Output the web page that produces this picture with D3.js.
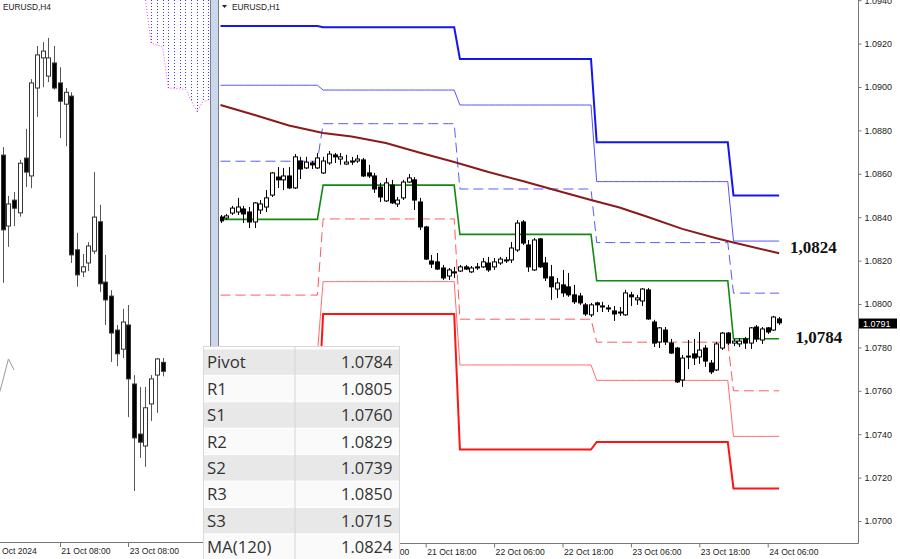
<!DOCTYPE html>
<html><head><meta charset="utf-8">
<script src="https://cdn.jsdelivr.net/npm/d3@7"></script>
<style>
html,body{margin:0;padding:0;background:#fff;}
svg{display:block;}
</style></head><body>
<svg id="c" width="900" height="559"></svg>
<script>
// ---------------- DATA ----------------
// H4 panel (left), bars 0..28 (17 Oct 16:00 .. 24 Oct 08:00)
const h4Open  = [1.08411,1.08244,1.08305,1.08275,1.08404,1.08362,1.08569,1.08640,1.08597,1.08628,1.08581,1.08531,1.08550,1.08188,1.08136,1.08157,1.08185,1.08254,1.08112,1.08079,1.07999,1.07954,1.08011,1.07872,1.07754,1.07726,1.07825,1.07893,1.07923];
const h4High  = [1.08430,1.08315,1.08324,1.08400,1.08473,1.08590,1.08668,1.08677,1.08687,1.08668,1.08618,1.08569,1.08559,1.08228,1.08178,1.08206,1.08371,1.08294,1.08176,1.08093,1.08011,1.08049,1.08058,1.07893,1.07865,1.07865,1.07893,1.07933,1.07933];
const h4Low   = [1.08110,1.08195,1.08244,1.08266,1.08336,1.08333,1.08501,1.08571,1.08583,1.08565,1.08451,1.08432,1.08157,1.08101,1.08124,1.08138,1.08178,1.08089,1.08011,1.07924,1.07914,1.07933,1.07794,1.07620,1.07698,1.07677,1.07785,1.07804,1.07890];
const h4Close = [1.08235,1.08296,1.08286,1.08392,1.08371,1.08581,1.08647,1.08656,1.08640,1.08569,1.08538,1.08559,1.08176,1.08129,1.08148,1.08197,1.08265,1.08108,1.08070,1.07992,1.07943,1.08018,1.07884,1.07745,1.07735,1.07816,1.07884,1.07931,1.07902];
const h4CloudBars = [25,26,27,28,29,30,31,32,33,34,35,36];
const h4CloudEdge = [1.08776,1.08675,1.08670,1.08666,1.08569,1.08568,1.08567,1.08566,1.08541,1.08513,1.08536,1.08541];
const h4LagBars = [-1,0,1,2];
const h4LagValues = [1.07830,1.07879,1.07931,1.07905];
const h4TickBars = [10,22];
const h4TickLabels = ["21 Oct 08:00","23 Oct 08:00"];
const h4FirstLabel = "Oct 2024";

// H1 panel (right), bars -18..80 (bar 0 = 21 Oct 00:00)
const h1FirstBar = -18;
const h1Open = [1.08401,1.08396,1.08419,1.08424,1.08438,1.08424,1.08378,1.08433,1.08447,1.08502,1.08585,1.08572,1.08590,1.08535,1.08659,1.08627,1.08650,1.08627,
1.08604,1.08650,1.08687,1.08668,1.08645,1.08659,1.08659,1.08664,1.08604,1.08590,1.08539,1.08475,1.08548,1.08461,1.08489,1.08562,1.08572,1.08470,1.08355,1.08198,1.08194,1.08166,1.08129,1.08148,
1.08152,1.08171,1.08148,1.08171,1.08171,1.08189,1.08171,1.08189,1.08203,1.08203,1.08249,1.08378,1.08272,1.08157,1.08300,1.08189,1.08125,1.08069,1.08088,1.08079,1.08042,1.08037,1.07996,1.07950,
1.08005,1.07991,1.07982,1.07968,1.07963,1.07950,1.08042,1.08019,1.08014,1.08065,1.07917,1.07825,1.07880,1.07820,1.07797,1.07650,1.07760,1.07770,1.07756,1.07797,1.07728,1.07696,1.07797,1.07866,
1.07820,1.07816,1.07839,1.07820,1.07894,1.07834,1.07890,1.07880,1.07931];
const h1High = [1.08410,1.08415,1.08452,1.08489,1.08452,1.08447,1.08470,1.08479,1.08525,1.08608,1.08631,1.08627,1.08631,1.08691,1.08678,1.08678,1.08659,1.08696,
1.08678,1.08705,1.08696,1.08696,1.08687,1.08678,1.08687,1.08673,1.08641,1.08604,1.08558,1.08581,1.08572,1.08493,1.08572,1.08599,1.08585,1.08489,1.08360,1.08226,1.08235,1.08180,1.08166,1.08171,
1.08180,1.08180,1.08175,1.08189,1.08212,1.08217,1.08212,1.08217,1.08217,1.08286,1.08387,1.08387,1.08295,1.08304,1.08304,1.08217,1.08180,1.08120,1.08157,1.08143,1.08088,1.08051,1.08005,1.08005,
1.08010,1.08010,1.07996,1.07991,1.07986,1.08065,1.08056,1.08042,1.08074,1.08074,1.07927,1.07894,1.07894,1.07839,1.07802,1.07765,1.07834,1.07839,1.07871,1.07811,1.07742,1.07825,1.07871,1.07871,
1.07839,1.07843,1.07848,1.07894,1.07903,1.07894,1.07894,1.07945,1.07940];
const h1Low = [1.08373,1.08387,1.08410,1.08410,1.08373,1.08350,1.08350,1.08415,1.08424,1.08493,1.08535,1.08525,1.08530,1.08530,1.08576,1.08622,1.08622,1.08622,
1.08599,1.08641,1.08650,1.08641,1.08641,1.08641,1.08650,1.08585,1.08581,1.08512,1.08470,1.08470,1.08461,1.08447,1.08479,1.08558,1.08433,1.08341,1.08203,1.08166,1.08157,1.08111,1.08111,1.08120,
1.08148,1.08157,1.08143,1.08157,1.08166,1.08148,1.08157,1.08180,1.08189,1.08189,1.08240,1.08272,1.08148,1.08152,1.08166,1.08106,1.08019,1.08028,1.08033,1.08033,1.08000,1.07996,1.07945,1.07940,
1.07963,1.07963,1.07963,1.07922,1.07945,1.07945,1.07991,1.07996,1.07991,1.07927,1.07802,1.07797,1.07811,1.07770,1.07636,1.07618,1.07700,1.07719,1.07724,1.07710,1.07677,1.07691,1.07788,1.07811,
1.07806,1.07802,1.07793,1.07793,1.07825,1.07816,1.07862,1.07876,1.07903];
const h1Close = [1.08383,1.08406,1.08442,1.08447,1.08415,1.08378,1.08466,1.08461,1.08489,1.08604,1.08572,1.08590,1.08535,1.08678,1.08622,1.08654,1.08641,1.08673,
1.08659,1.08691,1.08678,1.08678,1.08654,1.08654,1.08668,1.08590,1.08590,1.08530,1.08493,1.08558,1.08466,1.08479,1.08562,1.08581,1.08479,1.08355,1.08207,1.08184,1.08161,1.08120,1.08157,1.08143,
1.08171,1.08161,1.08166,1.08166,1.08194,1.08157,1.08194,1.08207,1.08200,1.08258,1.08373,1.08281,1.08171,1.08295,1.08171,1.08120,1.08079,1.08097,1.08051,1.08042,1.08010,1.08005,1.07954,1.07996,
1.07996,1.07989,1.07977,1.07954,1.07959,1.08051,1.08033,1.08028,1.08069,1.07931,1.07820,1.07890,1.07825,1.07774,1.07641,1.07751,1.07756,1.07751,1.07788,1.07737,1.07687,1.07816,1.07866,1.07820,
1.07829,1.07829,1.07820,1.07890,1.07839,1.07885,1.07871,1.07940,1.07913];

// Daily pivot levels (18, 21, 22, 23, 24 Oct)
const pivotDays = ["18 Oct","21 Oct","22 Oct","23 Oct","24 Oct"];
const dayFirstBar = [-18,0,24,48,72];
const levelR3 = [1.09281,1.09275,1.09129,1.08745,1.0850];
const levelR2 = [1.09008,1.08986,1.08917,1.08564,1.0829];
const levelR1 = [1.08658,1.08831,1.08530,1.08283,1.0805];
const levelP  = [1.08390,1.08548,1.08321,1.08107,1.0784];
const levelS1 = [1.08041,1.08392,1.07930,1.07824,1.0760];
const levelS2 = [1.07772,1.08103,1.07719,1.07648,1.0739];
const levelS3 = [1.07422,1.07954,1.07329,1.07364,1.0715];

// MA(120)
const maBars   = [-18,-12,-6,0,5,11,17,23,29,35,40,47,52,57,63,69,72,80];
const maValues = [1.08917,1.08871,1.08823,1.08788,1.08772,1.08742,1.08697,1.08654,1.08608,1.08567,1.08530,1.08479,1.08445,1.08401,1.08346,1.08303,1.08283,1.08234];

const priceTicks = [1.0700,1.0720,1.0740,1.0760,1.0780,1.0800,1.0820,1.0840,1.0860,1.0880,1.0900,1.0920,1.0940];
const h1TickBars = [6,18,30,42,54,66,78];
const h1TickLabels = ["00","21 Oct 18:00","22 Oct 06:00","22 Oct 18:00","23 Oct 06:00","23 Oct 18:00","24 Oct 06:00"];
const lastPrice = 1.0791;
const maLabel = "1,0824", pivotLabel = "1,0784";
const maLabelValue = 1.0824, pivotLabelValue = 1.0784;

const tableLabels = ["Pivot","R1","S1","R2","S2","R3","S3","MA(120)"];
const tableValues = ["1.0784","1.0805","1.0760","1.0829","1.0739","1.0850","1.0715","1.0824"];

// ---------------- DRAW ----------------
const svg = d3.select("#c");
svg.append("rect").attr("width",900).attr("height",559).attr("fill","#fff");
const defs = svg.append("defs");
defs.append("clipPath").attr("id","clipL").append("rect").attr("x",0).attr("y",0).attr("width",210).attr("height",542);
defs.append("clipPath").attr("id","clipR").append("rect").attr("x",220).attr("y",0).attr("width",638).attr("height",543);

const yH1 = d3.scaleLinear().domain([1.0700,1.0940]).range([521,0.2]);
const xH1 = d3.scaleLinear().domain([0,78]).range([323.1,767.7]);
const yH4 = d3.scaleLinear().domain([1.0762,1.087763]).range([491,0]);
const xH4 = d3.scaleLinear().domain([0,28]).range([2.7,162.6]);
const axisFont = "Liberation Sans, Arial, sans-serif";

function drawCandles(g, bars, O, Hh, L, C, x, y, wickColor, edgeColor){
  const data = bars.map((b,i)=>({b,o:O[i],h:Hh[i],l:L[i],c:C[i]}));
  const cg = g.append("g");
  cg.selectAll("line.w").data(data).enter().append("line")
    .attr("x1",d=>Math.round(x(d.b))+0.5).attr("x2",d=>Math.round(x(d.b))+0.5)
    .attr("y1",d=>y(d.h)).attr("y2",d=>y(d.l))
    .attr("stroke",wickColor).attr("stroke-width",1);
  cg.selectAll("rect.b").data(data).enter().append("rect")
    .attr("x",d=>Math.round(x(d.b))-1.5)
    .attr("width",4)
    .attr("y",d=>Math.min(y(d.o),y(d.c)))
    .attr("height",d=>Math.max(Math.abs(y(d.o)-y(d.c)),1))
    .attr("fill",d=>d.c<d.o?"#000":"#fff")
    .attr("stroke",edgeColor).attr("stroke-width",1);
}

// ---- Left H4 panel ----
const gL = svg.append("g").attr("clip-path","url(#clipL)");
const cloudPts = h4CloudBars.map((b,i)=>[xH4(b),yH4(h4CloudEdge[i])]);
gL.selectAll("line.hatch").data(cloudPts.slice(1)).enter().append("line")
  .attr("x1",d=>Math.round(d[0])+0.5).attr("x2",d=>Math.round(d[0])+0.5)
  .attr("y1",0).attr("y2",d=>d[1])
  .attr("stroke","#3a3aff").attr("stroke-width",1).attr("stroke-dasharray","1,2");
gL.append("path").attr("d",d3.line()(cloudPts)).attr("fill","none")
  .attr("stroke","#ff3cff").attr("stroke-width",1).attr("stroke-dasharray","1,2");
gL.append("path").attr("d",d3.line()(h4LagBars.map((b,i)=>[xH4(b),yH4(h4LagValues[i])])))
  .attr("fill","none").attr("stroke","#9a9a9a").attr("stroke-width",1);
drawCandles(gL, h4Open.map((d,i)=>i), h4Open,h4High,h4Low,h4Close, xH4, yH4, "#555", "#333");
svg.append("line").attr("x1",0).attr("x2",210).attr("y1",542.5).attr("y2",542.5).attr("stroke","#777");
svg.selectAll("line.l4t").data(h4TickBars).enter().append("line")
  .attr("x1",d=>Math.round(xH4(d))+0.5).attr("x2",d=>Math.round(xH4(d))+0.5)
  .attr("y1",542).attr("y2",547).attr("stroke","#777");
svg.selectAll("text.l4t").data(h4TickBars).enter().append("text")
  .attr("x",d=>xH4(d)+1.5).attr("y",554).text((d,i)=>h4TickLabels[i])
  .attr("font-family",axisFont).attr("font-size",8.6).attr("fill","#222");
svg.append("text").attr("x",2).attr("y",554).text(h4FirstLabel)
  .attr("font-family",axisFont).attr("font-size",8.6).attr("fill","#222");
svg.append("text").attr("x",3).attr("y",10).text("EURUSD,H4")
  .attr("font-family",axisFont).attr("font-size",8.3).attr("fill","#222");

// separator
svg.append("rect").attr("x",210.5).attr("y",-1).attr("width",8).attr("height",348)
  .attr("fill","#c9d8ec").attr("stroke","#7d7d7d").attr("stroke-width",1);

// ---- Right H1 panel ----
const gR = svg.append("g").attr("clip-path","url(#clipR)");
const lastBar = h1FirstBar + h1Open.length - 1;
function levelPoints(vals){
  const pts=[];
  for(let k=h1FirstBar;k<=lastBar;k++){
    let d=0; for(let j=0;j<dayFirstBar.length;j++) if(k>=dayFirstBar[j]) d=j;
    pts.push([xH1(k), yH1(vals[d])]);
  }
  return pts;
}
const levels = [
  {v:levelS3, c:"#ff1414", w:2, dash:null},
  {v:levelS2, c:"#ff6e6e", w:1, dash:null},
  {v:levelS1, c:"#ff5a5a", w:1, dash:"10,5"},
  {v:levelR3, c:"#1414f5", w:2, dash:null},
  {v:levelR2, c:"#5555ff", w:1, dash:null},
  {v:levelR1, c:"#5a5aff", w:1, dash:"10,5"},
  {v:levelP,  c:"#128a12", w:1.6, dash:null}
];
levels.forEach(L=>{
  gR.append("path").attr("d",d3.line()(levelPoints(L.v))).attr("fill","none")
    .attr("stroke",L.c).attr("stroke-width",L.w).attr("stroke-dasharray",L.dash);
});
gR.append("path").attr("d",d3.line()(maBars.map((b,i)=>[xH1(b),yH1(maValues[i])])))
  .attr("fill","none").attr("stroke","#8b1a1a").attr("stroke-width",2);
drawCandles(gR, h1Open.map((d,i)=>h1FirstBar+i), h1Open,h1High,h1Low,h1Close, xH1, yH1, "#000", "#000");

// right axes
svg.append("line").attr("x1",858.5).attr("x2",858.5).attr("y1",0).attr("y2",543.5).attr("stroke","#777");
svg.append("line").attr("x1",219).attr("x2",858.5).attr("y1",543.5).attr("y2",543.5).attr("stroke","#777");
const yAxis = d3.axisRight(yH1).tickValues(priceTicks).tickFormat(d3.format(".4f")).tickSize(3).tickPadding(3);
const ya = svg.append("g").attr("transform","translate(858.5,0)").call(yAxis);
ya.select(".domain").remove();
ya.selectAll("line").attr("stroke","#777");
ya.selectAll("text").attr("font-family",axisFont).attr("font-size",9).attr("fill","#222");
const xAxis = d3.axisBottom(xH1).tickValues(h1TickBars).tickFormat((d,i)=>h1TickLabels[i]).tickSize(4).tickPadding(2);
const xa = svg.append("g").attr("transform","translate(0,543.5)").call(xAxis);
xa.select(".domain").remove();
xa.selectAll("line").attr("stroke","#777");
xa.selectAll("text").attr("text-anchor","start").attr("dx",(d,i)=>i===0?42:1).attr("dy","0.6em")
  .attr("font-family",axisFont).attr("font-size",8.6).attr("fill","#222");

// current price tag
svg.append("rect").attr("x",859).attr("y",yH1(lastPrice)-5).attr("width",38).attr("height",10).attr("fill","#000");
svg.append("text").attr("x",863).attr("y",yH1(lastPrice)+3.3).text(d3.format(".4f")(lastPrice))
  .attr("font-family",axisFont).attr("font-size",9).attr("fill","#fff");

// title
svg.append("path").attr("d","M222,5 L227,5 L224.5,8 Z").attr("fill","#222");
svg.append("text").attr("x",232).attr("y",10).text("EURUSD,H1")
  .attr("font-family",axisFont).attr("font-size",8.3).attr("fill","#222");

// value labels
svg.append("text").attr("x",790).attr("y",yH1(maLabelValue)+1.5).text(maLabel)
  .attr("font-family","Liberation Serif, Times New Roman, serif").attr("font-weight","bold").attr("font-size",17).attr("fill","#111");
svg.append("text").attr("x",795.5).attr("y",yH1(pivotLabelValue)+4).text(pivotLabel)
  .attr("font-family","Liberation Serif, Times New Roman, serif").attr("font-weight","bold").attr("font-size",17).attr("fill","#111");

// ---- Table ----
const tg = svg.append("g");
const tX0 = 203.5, tX1 = 399.5, tY0 = 346.5, rowH = 26.4, rowY0 = 349;
tg.append("rect").attr("x",tX0).attr("y",tY0).attr("width",tX1-tX0).attr("height",559-tY0).attr("fill","#fff").attr("stroke","#d8d8d8");
const rowScale = d3.scaleBand().domain(tableLabels).range([rowY0,rowY0+rowH*tableLabels.length]).padding(0);
tg.selectAll("rect.row").data(tableLabels).enter().append("rect")
  .attr("x",tX0+0.5).attr("y",d=>rowScale(d)+0.5).attr("width",tX1-tX0-1).attr("height",rowScale.bandwidth()-1)
  .attr("fill",(d,i)=>i%2===0?"#e8e8e8":"#fafafa");
tg.append("line").attr("x1",295).attr("x2",295).attr("y1",tY0).attr("y2",559).attr("stroke","#d4d4d4");
tg.selectAll("text.lab").data(tableLabels).enter().append("text")
  .attr("x",207).attr("y",d=>rowScale(d)+19.3).text(d=>d)
  .attr("font-family","Open Sans, Noto Sans, sans-serif").attr("font-size",16.8).attr("fill","#333");
tg.selectAll("text.val").data(tableValues).enter().append("text")
  .attr("x",392.5).attr("text-anchor","end").attr("y",(d,i)=>rowScale(tableLabels[i])+19.3).text(d=>d)
  .attr("font-family","Open Sans, Noto Sans, sans-serif").attr("font-size",16.5).attr("fill","#333");
</script>
</body></html>
